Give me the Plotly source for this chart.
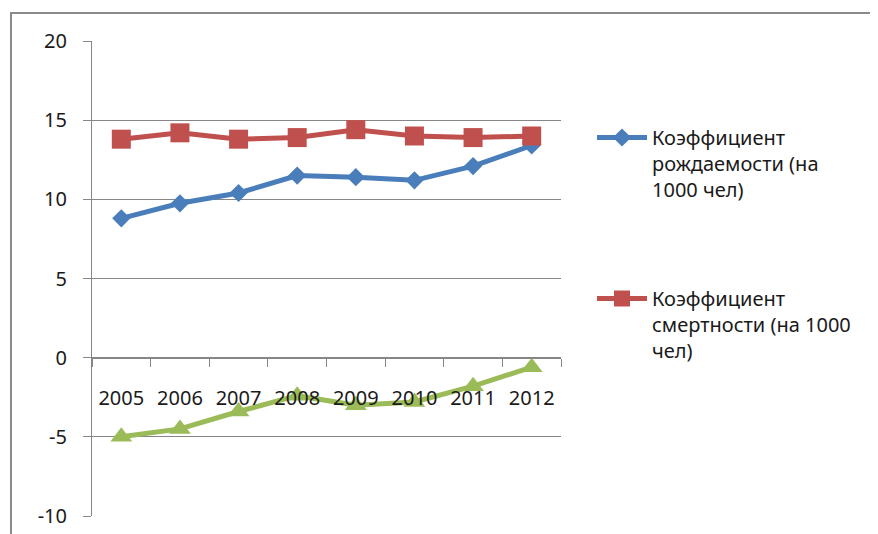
import plotly.graph_objects as go

years = ["2005", "2006", "2007", "2008", "2009", "2010", "2011", "2012"]
birth = [8.8, 9.75, 10.4, 11.5, 11.4, 11.2, 12.1, 13.4]
death = [13.8, 14.2, 13.8, 13.9, 14.4, 14.0, 13.9, 14.0]
natural = [-5.0, -4.5, -3.4, -2.4, -3.0, -2.8, -1.8, -0.6]
y_ticks = [-10, -5, 0, 5, 10, 15, 20]
y_tick_labels = ["-10", "-5", "0", "5", "10", "15", "20"]

birth_name = "Коэффициент<br>рождаемости (на<br>1000 чел)"
death_name = "Коэффициент<br>смертности (на 1000<br>чел)"

W, H = 878, 534
OFF = 8  # page body margin offset
# plot area in page pixels
L, R, T, B = 92, 561, 41, 516
Lf, Rf, Tf, Bf = L - OFF, R - OFF, T - OFF, B - OFF

FONT = "Noto Sans"
TXT = "#1a1a1a"
FS = 20

fig = go.Figure()
fig.add_trace(go.Scatter(
    x=years, y=birth, name=birth_name, mode="lines+markers",
    line=dict(color="#4A7EBB", width=5),
    marker=dict(symbol="diamond", size=14, color="#4A7EBB"),
    legendgroup="a",
))
fig.add_trace(go.Scatter(
    x=years, y=death, name=death_name, mode="lines+markers",
    line=dict(color="#C0504D", width=5),
    marker=dict(symbol="square", size=19, color="#C0504D"),
    legendgroup="b",
))
fig.add_trace(go.Scatter(
    x=years, y=natural, name="", mode="lines+markers",
    line=dict(color="#9BBB59", width=5),
    marker=dict(symbol="triangle-up", size=19, color="#9BBB59"),
    showlegend=False,
))

def px_x(p):
    return (p - L) / (R - L)

def px_y(p):
    return (B - p) / (B - T)

fig.update_layout(
    width=W, height=H,
    margin=dict(l=Lf, r=W - Rf, t=Tf, b=H - Bf, autoexpand=False),
    paper_bgcolor="white", plot_bgcolor="white",
    font=dict(family=FONT, size=FS, color=TXT),
    showlegend=True,
    legend=dict(
        x=px_x(592), y=px_y(118), xanchor="left", yanchor="top",
        valign="top", tracegroupgap=80, itemwidth=50,
        font=dict(family=FONT, size=FS, color=TXT),
        bgcolor="rgba(0,0,0,0)",
    ),
    xaxis=dict(
        type="category", range=[-0.5, 7.5],
        anchor="free", position=1 / 3,
        showline=True, linecolor="#868686", linewidth=1,
        ticks="outside", ticklen=8, tickcolor="#868686", tickson="boundaries",
        showgrid=False, ticklabelstandoff=22,
        tickfont=dict(family=FONT, size=FS, color=TXT),
    ),
    yaxis=dict(
        range=[-10, 20], tickvals=y_ticks, ticktext=y_tick_labels,
        showline=True, linecolor="#868686", linewidth=1,
        ticks="outside", ticklen=8, tickcolor="#868686",
        showgrid=True, gridcolor="#868686", gridwidth=1,
        zeroline=False, ticklabelstandoff=12,
        tickfont=dict(family=FONT, size=FS, color=TXT),
    ),
    shapes=[dict(
        type="rect", xref="paper", yref="paper",
        x0=px_x(11), x1=px_x(W + 20), y0=px_y(H + 20), y1=px_y(13),
        line=dict(color="#8a8a8a", width=2), fillcolor="rgba(0,0,0,0)",
        layer="below",
    )],
)

fig.write_html("out.html")
